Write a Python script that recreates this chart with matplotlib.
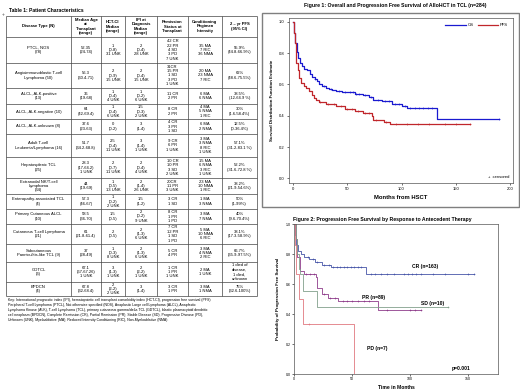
import numpy as np
import matplotlib.pyplot as plt

plt.rcParams['font.family'] = ['Liberation Sans', 'DejaVu Sans']

# ---- Table 1 data ----
table_title = "Table 1: Patient Characteristics"
col_heads = ["Disease Type (N)", "Median Age\nat\nTransplant\n(range)", "HCT-CI\nMedian\n(range)",
             "IPI at\nDiagnosis\nMedian\n(range)", "Remission\nStatus at\nTransplant",
             "Conditioning\nRegimen\nIntensity", "2 \u2013 yr PFS\n(95% CI)"]
rows = [
    ["PTCL, NOS\n(78)", "52.35\n(24-74)", "1\n(0-8)\n31 UNK", "2\n(0-4)\n28 UNK",
     "42 CR\n22 PR\n4 SD\n3 PD\n7 UNK", "35 MA\n7 RIC\n36 NMA", "55.9%\n(44.8-66.9%)"],
    ["Angioimmunoblastic T-cell\nLymphoma (50)", "56.3\n(30.4-71)", "2\n(0-9)\n15 UNK", "2\n(0-4)\n15 UNK",
     "31CR\n15 PR\n1 SD\n3 PD\n1 UNK", "20 MA\n23 NMA\n7 RIC", "62%\n(48.6-75.5%)"],
    ["ALCL, ALK-positive\n(13)", "36\n(19-68)", "1\n(0-4)\n4 UNK", "1\n(0-2)\n6 UNK",
     "11 CR\n2 PR", "6 MA\n6 NMA", "38.5%\n(12-64.9 %)"],
    ["ALCL, ALK-negative (10)", "64\n(42-69.4)", "1\n(0-4)\n6 UNK", "1.5\n(0-3)\n2 UNK",
     "8 CR\n2 PR", "4 MA\n5 NMA\n1 RIC", "30%\n(1.6-58.4%)"],
    ["ALCL, ALK-unknown (8)", "37.6\n(23-63)", "0\n(0-2)", "3\n(1-4)",
     "4 CR\n3 PR\n1 SD", "6 MA\n2 NMA", "12.5%\n(0-36.4%)"],
    ["Adult T-cell\nLeukemia/Lymphoma (16)", "51.7\n(34.2-68.8)", "2.5\n(0-4)\n11 UNK", "3\n(1-4)\n1 UNK",
     "9 CR\n6 PR\n1 UNK", "3 MA\n3 NMA\n8 RIC\n1 UNK", "57.1%\n(31.2-83.1 %)"],
    ["Hepatosplenic TCL\n(25)", "28.3\n(17-64.2)\n1 UNK", "2\n(0-7)\n11 UNK", "2\n(0-4)\n4 UNK",
     "10 CR\n10 PR\n3 SD\n2 UNK", "15 MA\n6 NMA\n3 RIC\n1 UNK", "52.2%\n(31.6-72.8 %)"],
    ["Extranodal NK/T-cell\nLymphoma\n(34)", "44\n(19-69)", "1\n(0-5)\n13 UNK", "2\n(1-4)\n26 UNK",
     "20CR\n11 PR\n3 UNK", "23 MA\n10 NMA\n1 RIC", "38.2%\n(21.9-54.6%)"],
    ["Enteropathy-associated TCL\n(4)", "57.3\n(46-67)", "1\n(0-2)\n2 UNK", "1.5\n(1-2)",
     "3 CR\n1 SD", "1 MA\n3 NMA", "50%\n(1-99%)"],
    ["Primary Cutaneous ALCL\n(10)", "58.5\n(36-70)", "1.5\n(0-5)", "2\n(0-2)\n9 UNK",
     "8 CR\n1 PR\n1 PD", "3 MA\n7 NMA", "40%\n(9.6-70.4%)"],
    ["Cutaneous T-cell Lymphoma\n(21)", "61\n(21.8-61.4)", "2\n(0-5)", "2\n(1-3)\n6 UNK",
     "7 CR\n12 PR\n1 SD\n1 PD", "5 MA\n10 NMA\n6 RIC", "38.1%\n(17.3-58.9%)"],
    ["Subcutaneous\nPanniculitis-like TCL (9)", "37\n(28-49)", "1\n(0-3)\n8 UNK", "2\n(1-3)\n6 UNK",
     "5 CR\n4 PR", "3 MA\n4 NMA\n2 RIC", "66.7%\n(35.9-97.5%)"],
    ["GDTCL\n(3)", "67.1\n(67-67.26)\n1 UNK", "3\n(1-3)\n1 UNK", "2\n(2-2)\n1 UNK",
     "1 CR\n1 PR\n1 UNK", "2 MA\n1 UNK", "1 died of\ndisease,\n1 died,\nunknown"],
    ["BPDCN\n(4)", "67.8\n(32-68.4)", "2\n(2-2)\n2 UNK", "3\n(1-4)",
     "3 CR\n1 PR", "3 MA\n1 NMA", "75%\n(32.6-100%)"],
]
key_lines = [
    "Key: International prognostic index (IPI), hematopoietic cell transplant comorbidity index (HCT-CI), progression free survival (PFS)",
    "Peripheral T-cell Lymphoma (PTCL), Not otherwise specified (NOS), Anaplastic Large cell Lymphoma (ALCL), Anaplastic",
    "Lymphoma Kinase (ALK), T-cell Lymphoma (TCL), primary cutaneous gamma/delta TCL (GDTCL), blastic plasmacytoid dendritic",
    "cell neoplasm (BPDCN), Complete Remission (CR), Partial Remission (PR), Stable Disease (SD), Progressive Disease (PD),",
    "Unknown (UNK), Myeloablative (MA), Reduced Intensity Conditioning (RIC), Non-Myeloablative (NMA).",
]

# ---- Figure 1 data (step curves) ----
os_t = [0, 1, 2, 3, 4.6, 6, 8.3, 10, 12.9, 15, 17.5, 20, 22, 24, 26.7, 30, 33, 36, 39, 45, 57, 64, 70, 74, 82, 91, 100, 105, 132.5, 190]
os_s = [1.0, 0.93, 0.865, 0.81, 0.77, 0.74, 0.716, 0.70, 0.69, 0.67, 0.65, 0.635, 0.62, 0.605, 0.59, 0.58, 0.57, 0.565, 0.56, 0.55, 0.54, 0.53, 0.52, 0.50, 0.495, 0.476, 0.464, 0.447, 0.38, 0.38]
os_cens = [20, 28, 35, 42, 48, 52, 55, 58, 61, 66, 72, 78, 85, 88, 94, 98, 103, 108, 112, 116, 120, 124, 128, 190]
pfs_t = [0, 0.8, 1.5, 2.2, 2.8, 4, 5.2, 7, 9.8, 12, 14.4, 17.5, 19, 20.5, 23.6, 30, 39, 48, 57, 64, 73, 73.3, 83.4, 89.6, 163]
pfs_s = [1.0, 0.93, 0.865, 0.80, 0.737, 0.69, 0.64, 0.61, 0.59, 0.575, 0.56, 0.534, 0.515, 0.50, 0.485, 0.474, 0.46, 0.444, 0.43, 0.417, 0.40, 0.374, 0.357, 0.346, 0.346]
pfs_cens = [25, 32, 38, 44, 50, 54, 60, 66, 70, 76, 86, 95, 105, 115, 125, 140, 150, 163]

# ---- Figure 2 data ----
cr_t = [0, 1, 2, 3.5, 6, 9, 13, 18, 24, 32, 62.5, 155]
cr_s = [1.0, 0.93, 0.86, 0.82, 0.80, 0.78, 0.765, 0.75, 0.73, 0.715, 0.667, 0.667]
cr_cens = [12, 16, 20, 26, 30, 34, 37, 40, 43, 46, 49, 52, 55, 58, 66, 70, 75, 80, 86, 95, 98, 102, 105, 110, 120, 130, 150, 155]
pr_t = [0, 1.5, 3, 5, 9, 19, 20, 24, 29, 38, 72.6, 110]
pr_s = [1.0, 0.9, 0.78, 0.684, 0.667, 0.65, 0.573, 0.533, 0.51, 0.484, 0.424, 0.424]
pr_cens = [10, 14, 17, 26, 31, 35, 42, 46, 50, 55, 60, 65, 80, 100, 104, 110]
sd_t = [0, 2, 3, 4, 5, 8, 19.5, 133]
sd_s = [1.0, 0.9, 0.8, 0.7, 0.667, 0.556, 0.444, 0.444]
sd_cens = [133]
pd_t = [0, 1, 2, 4.6, 7.5, 51.7]
pd_s = [1.0, 0.857, 0.667, 0.5, 0.333, 0.0]
pd_cens = [13]


def at(t, s, c):
    idx = np.searchsorted(t, c, side='right') - 1
    return np.array(s)[idx]


fig = plt.figure(figsize=(5.2, 3.91), dpi=100)

# overlay in pixel coordinates for the table and frames
ov = fig.add_axes([0, 0, 1, 1], zorder=0)
ov.set_xlim(0, 520)
ov.set_ylim(391, 0)
ov.axis('off')

col_x = [6, 71, 101, 125, 157, 188, 222, 257]
row_y = [16, 37, 63, 88, 104, 119, 134, 157, 178, 194, 209, 224, 244, 262, 282, 296]
ov.text(9, 13.5, table_title, fontsize=3.6, fontweight='bold', va='bottom')
ov.text(2, 14, "+", fontsize=3.5, color='#555555', va='center')
ov.hlines(row_y, col_x[0], col_x[-1], color='#444444', lw=0.5)
ov.vlines(col_x, row_y[0], row_y[-1], color='#444444', lw=0.5)
cells = [col_heads] + rows
for r, line in enumerate(cells):
    yc = (row_y[r] + row_y[r + 1]) / 2
    for c, txt in enumerate(line):
        xc = (col_x[c] + col_x[c + 1]) / 2
        ov.text(xc, yc, txt, fontsize=3.0, ha='center', va='center', linespacing=1.15,
                fontweight='bold' if r == 0 else 'normal')
for i, line in enumerate(key_lines):
    ov.text(8, 299.5 + i * 5.2, line, fontsize=2.55, va='center')

# figure 1 frame
ov.add_patch(plt.Rectangle((262, 13), 257, 194, fill=False, ec='#7f7f7f', lw=1))
ov.text(395, 6, "Figure 1: Overall and Progression Free Survival of AlloHCT in TCL (n=284)",
        fontsize=3.7, fontweight='bold', ha='center', va='center')
ov.text(382, 220, "Figure 2: Progression Free Survival by Response to Antecedent Therapy",
        fontsize=3.7, fontweight='bold', ha='center', va='center')

# ---- Figure 1 ----
ax1 = fig.add_axes([289 / 520, 1 - 183 / 391, 224 / 520, 165 / 391], zorder=2)
ax1.step(os_t, os_s, where='post', color='#1a1ad0', lw=0.9, label='OS')
ax1.step(pfs_t, pfs_s, where='post', color='#c0262b', lw=0.9, label='PFS')
ax1.plot(os_cens, at(os_t, os_s, os_cens), '+', color='#1a1ad0', ms=2, mew=0.4)
ax1.plot(pfs_cens, at(pfs_t, pfs_s, pfs_cens), '+', color='#c0262b', ms=2, mew=0.4)
ax1.set_xlim(-4, 203)
ax1.set_ylim(-0.03, 1.025)
ax1.set_xticks([0, 50, 100, 150, 200])
ax1.set_yticks([0.0, 0.2, 0.4, 0.6, 0.8, 1.0])
ax1.set_yticklabels(['0.0', '0.2', '0.4', '0.6', '0.8', '1.0'])
ax1.tick_params(labelsize=3, length=1.5, width=0.4, pad=1.5)
for sp in ax1.spines.values():
    sp.set_linewidth(0.5)
    sp.set_color('#555555')
ax1.set_xlabel("Months from HSCT", fontsize=4.2, fontweight='bold', labelpad=3)
ax1.set_ylabel("Survival Distribution Function Estimate", fontsize=3.2, fontweight='bold', labelpad=4)
ax1.legend(loc='upper right', ncol=2, frameon=False, fontsize=3, handlelength=5,
           columnspacing=1, handletextpad=0.4, borderaxespad=0.8)
ax1.text(0.985, 0.035, "+  censored", transform=ax1.transAxes, fontsize=3, ha='right', va='center')

# ---- Figure 2 ----
ax2 = fig.add_axes([294 / 520, 1 - 374 / 391, 204 / 520, 150 / 391], zorder=2)
groups = [(cr_t, cr_s, cr_cens, '#4756a8'), (pr_t, pr_s, pr_cens, '#8e3b8a'),
          (sd_t, sd_s, sd_cens, '#82a08c'), (pd_t, pd_s, pd_cens, '#e07880')]
for t, s, c, col in groups:
    ax2.step(t, s, where='post', color=col, lw=0.6)
    ax2.plot(c, at(t, s, c), '+', color=col, ms=1.8, mew=0.4)
ax2.set_xlim(0, 176)
ax2.set_ylim(0, 1.0)
ax2.set_xticks([0, 50, 100, 150])
ax2.set_yticks([0.0, 0.2, 0.4, 0.6, 0.8, 1.0])
ax2.set_yticklabels(['0.0', '0.2', '0.4', '0.6', '0.8', '1.0'])
ax2.tick_params(labelsize=2.6, length=1.2, width=0.4, pad=1)
for sp in ax2.spines.values():
    sp.set_linewidth(0.5)
    sp.set_color('#555555')
ax2.set_xlabel("Time in Months", fontsize=3.6, fontweight='bold', labelpad=2.5)
ax2.set_ylabel("Probability of Progression Free Survival", fontsize=3.2, fontweight='bold', labelpad=4)
ax2.text(102, 0.715, "CR (n=163)", fontsize=3.6, fontweight='bold', va='center')
ax2.text(59, 0.51, "PR (n=89)", fontsize=3.6, fontweight='bold', va='center')
ax2.text(110, 0.47, "SD (n=10)", fontsize=3.6, fontweight='bold', va='center')
ax2.text(63, 0.173, "PD (n=7)", fontsize=3.6, fontweight='bold', va='center')
ax2.text(136, 0.035, "p=0.001", fontsize=3.6, fontweight='bold', va='center')

fig.savefig("out.png", dpi=100)
